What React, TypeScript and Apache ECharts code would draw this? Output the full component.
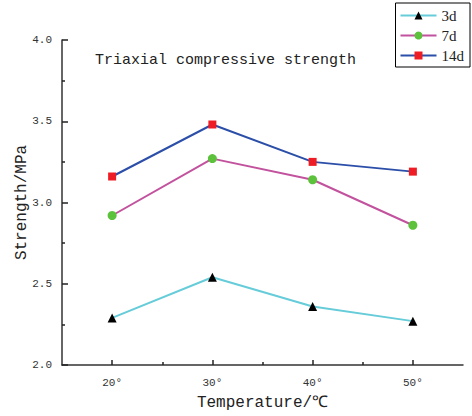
import React, { useEffect, useRef } from "react";
import * as echarts from "echarts";

const temperatures = [20, 30, 40, 50];
const s3d = [2.29, 2.54, 2.36, 2.27];
const s7d = [2.92, 3.27, 3.14, 2.86];
const s14d = [3.16, 3.48, 3.25, 3.19];
const xMajorTicks = [20, 30, 40, 50];
const xMinorTicks = [25, 35, 45];

const MONO = "Liberation Mono";
const SERIF = "Liberation Serif";

export default function App() {
  const ref = useRef<HTMLDivElement>(null);
  useEffect(() => {
    if (!ref.current) return;
    const chart = echarts.init(ref.current, null, { renderer: "svg" });
    const pts = (vals: number[]) => temperatures.map((t, i) => [t, vals[i]]);
    chart.setOption({
      animation: false,
      backgroundColor: "#fff",
      title: {
        text: "Triaxial compressive strength",
        left: 90,
        top: 48,
        textStyle: { fontFamily: MONO, fontWeight: "normal", fontSize: 15, color: "#222" },
      },
      legend: {
        orient: "vertical",
        right: 2,
        top: 3,
        borderColor: "#000",
        borderWidth: 1,
        borderRadius: 0,
        padding: [5, 6, 4, 4],
        itemGap: 5,
        itemWidth: 36,
        itemHeight: 10,
        textStyle: { fontFamily: SERIF, fontSize: 15, color: "#222" },
        data: ["3d", "7d", "14d"],
      },
      grid: { left: 62, right: 9, top: 40, bottom: 50 },
      xAxis: [
        {
          type: "value",
          min: 15,
          max: 55,
          name: "Temperature/℃",
          nameLocation: "middle",
          nameGap: 30,
          nameMoveOverlap: false,
          nameTextStyle: { fontFamily: MONO, fontSize: 16, color: "#222" },
          splitLine: { show: false },
          axisLine: { lineStyle: { color: "#333", width: 1.5 } },
          axisTick: { inside: true, length: 5, customValues: xMajorTicks, lineStyle: { color: "#222", width: 1.5 } },
          axisLabel: {
            customValues: xMajorTicks,
            formatter: (v: number) => v + "°",
            fontFamily: MONO,
            fontSize: 11,
            color: "#333",
            margin: 12,
          },
        },
        {
          type: "value",
          min: 15,
          max: 55,
          position: "bottom",
          splitLine: { show: false },
          axisLine: { show: false },
          axisTick: { inside: true, length: 3, customValues: xMinorTicks, lineStyle: { color: "#222", width: 1.5 } },
          axisLabel: { show: false },
        },
      ],
      yAxis: {
        type: "value",
        min: 2,
        max: 4,
        interval: 0.5,
        name: "Strength/MPa",
        nameLocation: "middle",
        nameGap: 32,
        nameMoveOverlap: false,
        nameTextStyle: { fontFamily: MONO, fontSize: 16, color: "#222" },
        splitLine: { show: false },
        axisLine: { show: true, lineStyle: { color: "#333", width: 1.5 } },
        axisTick: { show: true, inside: true, length: 6, lineStyle: { color: "#222", width: 1.5 } },
        minorTick: { show: true, splitNumber: 2, length: 3, lineStyle: { color: "#222", width: 1.5 } },
        axisLabel: {
          formatter: (v: number) => v.toFixed(1),
          fontFamily: MONO,
          fontSize: 11,
          color: "#333",
          margin: 10,
        },
      },
      series: [
        {
          name: "3d",
          type: "line",
          data: pts(s3d),
          symbol: "triangle",
          symbolSize: 9,
          lineStyle: { color: "#66ccd9", width: 2 },
          itemStyle: { color: "#000" },
        },
        {
          name: "7d",
          type: "line",
          data: pts(s7d),
          symbol: "circle",
          symbolSize: 9,
          lineStyle: { color: "#c2529e", width: 2 },
          itemStyle: { color: "#5cc23c" },
        },
        {
          name: "14d",
          type: "line",
          data: pts(s14d),
          symbol: "rect",
          symbolSize: 8,
          lineStyle: { color: "#2b4ea8", width: 2 },
          itemStyle: { color: "#ee1c24" },
        },
      ],
    });
    return () => chart.dispose();
  }, []);
  return <div ref={ref} style={{ width: 472, height: 416, position: "absolute", left: 0, top: 0 }} />;
}
